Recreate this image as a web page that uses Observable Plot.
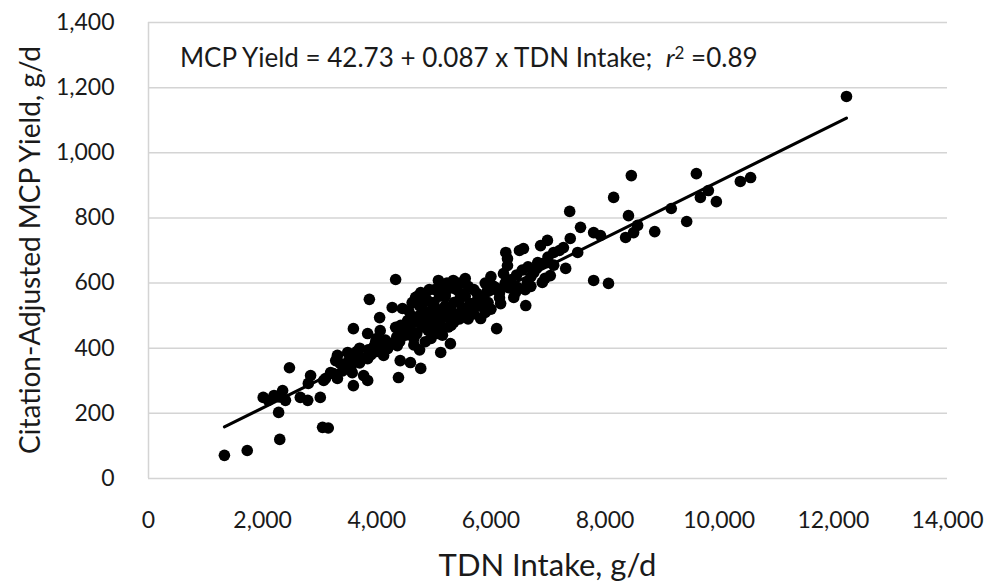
<!DOCTYPE html>
<html><head><meta charset="utf-8">
<script src="https://cdn.jsdelivr.net/npm/d3@7"></script>
<script src="https://cdn.jsdelivr.net/npm/@observablehq/plot@0.6"></script>
<style>body{margin:0;background:#fff} #chart svg{display:block}</style>
</head><body><div id="chart"></div>
<script>
const tdnIntake = [1330,1730,2010,2100,2200,2280,2300,2300,2350,2400,2470,2660,2790,2800,2840,3010,3050,3070,3100,3150,
3190,3240,3280,3310,3310,3360,3400,3450,3490,3500,3550,3570,3590,3590,3600,3650,3660,3700,3700,3750,
3770,3840,3840,3840,3850,3870,3900,3950,3980,4000,4000,4050,4060,4100,4120,4150,4190,4250,4270,4330,
4330,4350,4360,4380,4400,4410,4450,4450,4500,4540,4550,4590,4600,4600,4650,4650,4680,4700,4700,4750,
4750,4750,4770,4770,4800,4800,4850,4850,4850,4900,4900,4900,4950,4950,4990,5000,5000,5050,5050,5080,
5100,5100,5100,5120,5150,5150,5200,5200,5200,5250,5250,5290,5300,5300,5340,5350,5350,5400,5400,5450,
5450,5470,5500,5550,5550,5550,5600,5600,5640,5650,5700,5700,5750,5760,5800,5820,5820,5850,5900,5900,
5940,5950,6000,6000,6050,6100,6110,6150,6150,6170,6220,6250,6260,6290,6290,6290,6310,6350,6400,6430,
6450,6470,6500,6550,6570,6600,6610,6640,6650,6700,6700,6750,6800,6820,6870,6900,6900,6950,6990,6990,
7000,7040,7100,7100,7200,7270,7310,7380,7390,7520,7570,7800,7800,7920,8060,8150,8360,8410,8460,8500,
8570,8870,9160,9430,9600,9670,9810,9950,10370,10550,12230,
4420,4560,4620,4720,4820,4920,5020,5180,5230,5320,5420,5480,5020,5130];
const mcpYield = [71,86,249,240,255,203,120,250,270,240,340,249,240,292,316,249,157,301,307,155,
325,322,362,378,307,353,330,340,387,360,345,325,460,285,365,390,378,355,400,370,
316,445,368,301,395,550,380,405,420,390,430,494,454,400,378,425,399,415,525,611,
464,435,408,310,420,362,522,450,440,485,470,356,455,500,430,410,556,480,445,500,
395,530,571,338,465,520,490,420,568,510,455,545,470,430,525,495,540,520,445,608,
480,460,560,387,505,440,530,560,571,495,465,414,515,470,608,540,480,505,580,550,
490,568,525,560,500,614,490,590,537,520,505,580,545,568,530,537,491,555,510,600,
577,540,520,620,590,460,583,570,555,537,629,600,694,654,675,602,586,610,556,571,
625,586,700,640,706,580,531,602,650,620,590,632,645,663,715,660,602,615,731,663,
680,623,694,655,700,709,645,820,737,694,771,755,608,746,599,863,740,807,930,755,
777,758,829,789,936,863,884,850,912,924,1173,
470,515,540,560,550,580,580,590,600,585,600,600,470,500];
const xTicks = [0,2000,4000,6000,8000,10000,12000,14000];
const yTicks = [0,200,400,600,800,1000,1200,1400];
const trendX = [1330, 12230];
const trendY = [158.4, 1106.7];
const equationText = "MCP Yield = 42.73 + 0.087 x TDN Intake;  ";
const r2Label = " =0.89";
const annoPos = [560, 1290];
const xTitle = "TDN Intake, g/d";
const yTitle = "Citation-Adjusted MCP Yield, g/d";

const points = tdnIntake.map((x, i) => ({x, y: mcpYield[i]}));
const trend = trendX.map((x, i) => ({x, y: trendY[i]}));

const plot = Plot.plot({
  width: 990, height: 583,
  marginLeft: 148, marginRight: 43, marginTop: 22, marginBottom: 105,
  style: {fontFamily: "Lato, sans-serif", fontSize: "23px", color: "#1a1a1a", background: "#fff"},
  x: {domain: [0, 14000], ticks: xTicks, tickFormat: d3.format(","), tickSize: 0, tickPadding: 33, label: null},
  y: {domain: [0, 1400], ticks: yTicks, tickFormat: d3.format(","), tickSize: 0, tickPadding: 34, label: null},
  marks: [
    Plot.ruleY(yTicks, {stroke: "#d4d4d4", strokeWidth: 1.5}),
    Plot.ruleX([0], {stroke: "#d4d4d4", strokeWidth: 1.5}),
    Plot.dot(points, {x: "x", y: "y", r: 5.8, fill: "#000", stroke: null}),
    Plot.line(trend, {x: "x", y: "y", stroke: "#000", strokeWidth: 3})
  ]
});

const svg = d3.select(plot);
const sx = plot.scale("x"), sy = plot.scale("y");
const t = svg.append("text")
  .attr("x", sx.apply(annoPos[0])).attr("y", sy.apply(annoPos[1]))
  .attr("dy", "0.35em").attr("font-size", 26).attr("fill", "#1a1a1a")
  .attr("text-anchor", "start")
  .style("white-space", "pre");
t.append("tspan").text(equationText);
t.append("tspan").attr("font-style", "italic").text("r");
t.append("tspan").attr("dy", "-0.45em").attr("font-size", 17).text("2");
t.append("tspan").attr("dy", "0.3em").text(r2Label);

svg.append("text")
  .attr("x", (148 + 947) / 2).attr("y", 565).attr("dy", "0.35em")
  .attr("text-anchor", "middle").attr("font-size", 31).attr("fill", "#1a1a1a")
  .text(xTitle);
svg.append("text")
  .attr("transform", "translate(30,250) rotate(-90)").attr("dy", "0.35em")
  .attr("text-anchor", "middle").attr("font-size", 28).attr("fill", "#1a1a1a")
  .text(yTitle);

document.getElementById("chart").appendChild(plot);
</script>
</body></html>
